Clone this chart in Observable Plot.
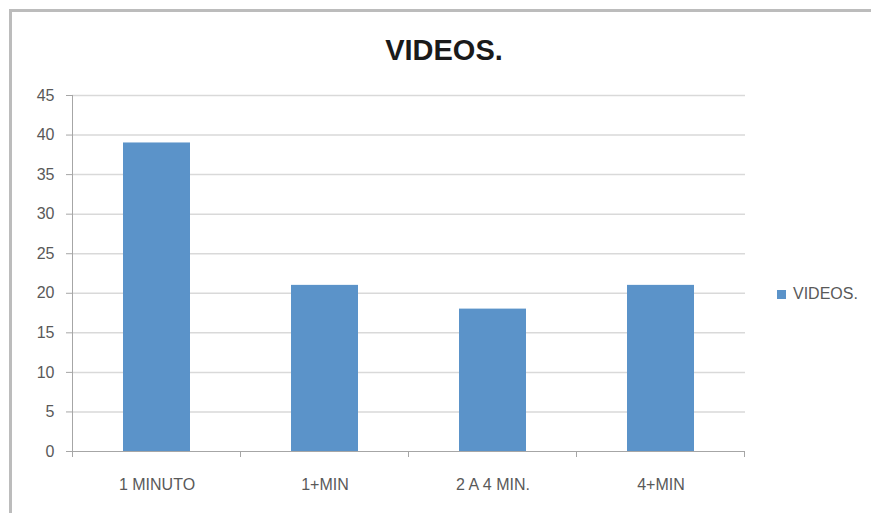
<!DOCTYPE html>
<html><head><meta charset="utf-8">
<script src="https://cdn.jsdelivr.net/npm/d3@7"></script>
<script src="https://cdn.jsdelivr.net/npm/@observablehq/plot@0.6"></script>
<style>
html,body{margin:0;padding:0;background:#fff;}
#wrap{position:relative;width:871px;height:513px;overflow:hidden;font-family:"Liberation Sans",Arial,sans-serif;}
#frame{position:absolute;left:9px;top:9px;width:900px;height:600px;border-left:3px solid #bcbcbc;border-top:3px solid #bcbcbc;box-sizing:border-box;}
#chart{position:absolute;left:0;top:0;}
#title{position:absolute;left:294px;width:300px;top:36px;text-align:center;font-weight:bold;font-size:29px;line-height:29px;color:#1a1a1a;}
#legend{position:absolute;left:777px;top:284px;height:20px;display:flex;align-items:center;font-size:16px;color:#595959;}
#legend .sw{width:9px;height:9px;margin-right:7px;}
</style>
</head><body>
<div id="wrap">
  <div id="frame"></div>
  <div id="chart"></div>
  <div id="title"></div>
  <div id="legend"><span class="sw"></span><span class="lt"></span></div>
</div>
<script>
const chartTitle = "VIDEOS.";
const seriesName = "VIDEOS.";
const categories = ["1 MINUTO", "1+MIN", "2 A 4 MIN.", "4+MIN"];
const values = [39, 21, 18, 21];
const yTicks = [0, 5, 10, 15, 20, 25, 30, 35, 40, 45];
const barColor = "#5b93c9";
const axisColor = "#a6a6a6";
const gridColor = "#d9d9d9";
const labelColor = "#595959";

const data = categories.map((c, i) => ({category: c, value: values[i]}));

document.getElementById("title").textContent = chartTitle;
document.querySelector("#legend .lt").textContent = seriesName;
document.querySelector("#legend .sw").style.background = barColor;

function categoryAxis(index, scales) {
  const x = scales.x, y = scales.y;
  const step = x(categories[1]) - x(categories[0]);
  const bw = typeof x.bandwidth === "function" ? x.bandwidth() : step * 0.4;
  const centers = categories.map(c => x(c) + bw / 2);
  const edges = [centers[0] - step / 2, ...centers.map(c => c + step / 2)];
  const y0 = y(yTicks[0]), yTop = y(yTicks[yTicks.length - 1]);
  const g = d3.create("svg:g").attr("stroke", axisColor).attr("fill", "none");
  g.append("line").attr("x1", edges[0]).attr("x2", edges[0]).attr("y1", yTop).attr("y2", y0);
  edges.forEach(e => g.append("line").attr("x1", e).attr("x2", e).attr("y1", y0).attr("y2", y0 + 6));
  return g.node();
}

const chart = Plot.plot({
  width: 871,
  height: 513,
  marginLeft: 72,
  marginRight: 126,
  marginTop: 95,
  marginBottom: 62,
  x: {domain: categories, paddingInner: 0.6, paddingOuter: 0.3, label: null},
  y: {domain: [0, 45], label: null},
  style: {fontFamily: "'Liberation Sans', Arial, sans-serif", fontSize: "16px", color: labelColor, background: "transparent", overflow: "visible"},
  marks: [
    Plot.gridY(yTicks.filter(d => d > 0), {stroke: gridColor, strokeOpacity: 1, strokeWidth: 1.5}),
    Plot.barY(data, {x: "category", y: "value", fill: barColor}),
    Plot.ruleY([0], {stroke: axisColor, strokeWidth: 1}),
    Plot.axisY(yTicks, {tickSize: 6, tickPadding: 12, stroke: axisColor, fill: labelColor}),
    Plot.axisX({tickSize: 0, tickPadding: 27, fill: labelColor}),
    categoryAxis
  ]
});
document.getElementById("chart").appendChild(chart);
</script>
</body></html>
